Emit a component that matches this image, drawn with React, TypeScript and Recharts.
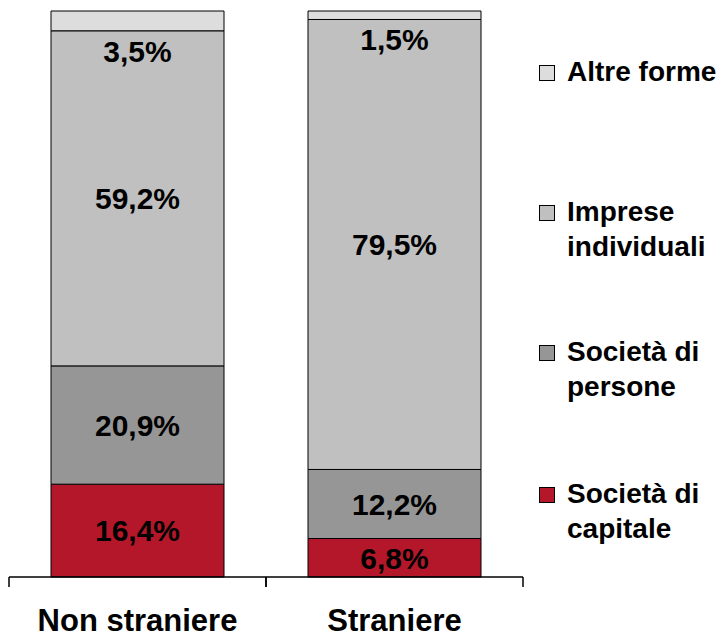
import React from "react";
import { BarChart, Bar, XAxis, YAxis, LabelList } from "recharts";

const categories = ["Non straniere", "Straniere"];
const societaCapitale = [16.4, 6.8];
const societaPersone = [20.9, 12.2];
const impreseIndividuali = [59.2, 79.5];
const altreForme = [3.5, 1.5];

const series = [
    { key: "capitale", name: "Società di\ncapitale", values: societaCapitale, color: "#B4172A" },
    { key: "persone", name: "Società di\npersone", values: societaPersone, color: "#969696" },
    { key: "individuali", name: "Imprese\nindividuali", values: impreseIndividuali, color: "#C0C0C0" },
    { key: "altre", name: "Altre forme", values: altreForme, color: "#DDDDDD" },
];

const data = categories.map((name, i) => {
    const row: Record<string, string | number> = { name };
    series.forEach((s) => (row[s.key] = s.values[i]));
    return row;
});

const FONT = "'Liberation Sans', Arial, sans-serif";
const W = 722;
const H = 638;
const MARGIN = { top: 11, right: 199, bottom: 0, left: 9 };
const BAND = (W - MARGIN.left - MARGIN.right) / categories.length;

const fmt = (v: number) => v.toFixed(1).replace(".", ",") + "%";

const makeLabel = (below: boolean) => (props: any) => {
    const { x, y, width, height, value } = props;
    const cy = below ? y + height + 20 : y + height / 2;
    return (
        <text x={x + width / 2} y={cy} dy="0.36em" textAnchor="middle" fontFamily={FONT} fontWeight="bold" fontSize={30} fill="#000">
            {fmt(Number(value))}
        </text>
    );
};

// ticks sit on the category boundaries, not the centres
const CategoryTick = (props: any) => {
    const { x, y, payload } = props;
    const axisY = y - 10;
    return (
        <g>
            <line x1={x - BAND / 2} x2={x - BAND / 2} y1={axisY} y2={axisY + 10} stroke="#000" strokeWidth={1.5} />
            <line x1={x + BAND / 2} x2={x + BAND / 2} y1={axisY} y2={axisY + 10} stroke="#000" strokeWidth={1.5} />
            <text x={x} y={axisY + 54} textAnchor="middle" fontFamily={FONT} fontWeight="bold" fontSize={31} fill="#000">
                {payload.value}
            </text>
        </g>
    );
};

const legendTops = [54, 194, 334, 476];

const App: React.FC = () => {
    const legendItems = [...series].reverse();
    return (
        <div style={{ position: "absolute", left: 0, top: 0, width: W, height: H, background: "#fff" }}>
            <BarChart width={W} height={H} data={data} margin={MARGIN} barCategoryGap={42}>
                <XAxis
                    dataKey="name"
                    height={61}
                    tickSize={10}
                    tickMargin={0}
                    tickLine={false}
                    axisLine={{ stroke: "#000", strokeWidth: 1.5 }}
                    tick={<CategoryTick />}
                    interval={0}
                />
                <YAxis hide domain={[0, 100]} />
                {series.map((s) => (
                    <Bar key={s.key} dataKey={s.key} stackId="a" fill={s.color} stroke="#000" strokeWidth={1} isAnimationActive={false}>
                        <LabelList dataKey={s.key} content={makeLabel(s.key === "altre")} />
                    </Bar>
                ))}
            </BarChart>
            {legendItems.map((s, i) => (
                <div
                    key={s.key}
                    style={{
                        position: "absolute",
                        left: 539,
                        top: legendTops[i],
                        fontFamily: FONT,
                        fontWeight: "bold",
                        fontSize: 28,
                        lineHeight: "35px",
                        color: "#000",
                    }}
                >
                    <div
                        style={{
                            position: "absolute",
                            left: 0,
                            top: 11,
                            width: 14,
                            height: 14,
                            background: s.color,
                            border: "1px solid #000",
                        }}
                    />
                    <div style={{ marginLeft: 28, whiteSpace: "pre" }}>{s.name}</div>
                </div>
            ))}
        </div>
    );
};

export default App;
